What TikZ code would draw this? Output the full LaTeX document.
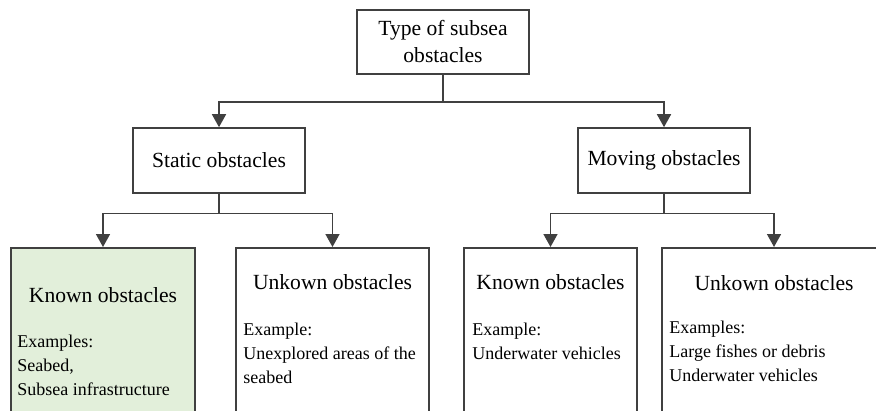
\documentclass[tikz,border=0pt]{standalone}
\usepackage{fontspec}
\setmainfont{Liberation Serif}
\usepackage{tikz}
\usetikzlibrary{arrows.meta,positioning,shadows}
\definecolor{obgreen}{RGB}{226,239,218}
\definecolor{obline}{RGB}{64,64,64}
\definecolor{obshade}{RGB}{170,190,225}

\begin{document}
\begin{tikzpicture}[x=0.5pt,y=-0.5pt,>={Triangle[width=7pt,length=6.5pt]},
  font=\fontsize{10.8}{13.5}\selectfont,
  box/.style={draw=obline,line width=0.8pt,fill=white,align=center,
    drop shadow={shadow xshift=0.4pt,shadow yshift=-0.6pt,fill=obshade,opacity=0.45}},
  leaf/.style={box,anchor=north,minimum height=110pt},
  link/.style={draw=obline,line width=0.8pt,->},
  note/.style={anchor=north west,inner sep=0pt,align=left,
    font=\fontsize{9}{12}\selectfont}]
  \useasboundingbox (0,0) rectangle (876,411);
  % root and first level
  \node[box,minimum width=86pt,minimum height=32pt] (root) at (443,42)
    {Type of subsea\\obstacles};
  \node[box,minimum width=86pt,minimum height=32.5pt] (static) at (219,160.5)
    {Static obstacles};
  \node[box,minimum width=86pt,minimum height=32.5pt] (moving) at (664,160.5)
    {Moving obstacles};
  % second level (boxes run past the bottom edge)
  \node[leaf,fill=obgreen,minimum width=92pt] (sknown) at (103,247) {};
  \node[leaf,minimum width=96.5pt] (sunknown) at (332.5,247) {};
  \node[leaf,minimum width=86.5pt] (mknown) at (550.5,247) {};
  \node[leaf,minimum width=111pt] (munknown) at (773,247) {};
  % box titles
  \node (sknownt) at (103,295) {Known obstacles};
  \node (sunknownt) at (332.5,282) {Unkown obstacles};
  \node (mknownt) at (550.5,282) {Known obstacles};
  \node (munknownt) at (774,283) {Unkown obstacles};
  % examples
  \node[note] (sknowne) at (17,335) {Examples:\\Seabed,\\Subsea infrastructure};
  \node[note] (sunknowne) at (243,323) {Example:\\Unexplored areas of the\\seabed};
  \node[note] (mknowne) at (472,323) {Example:\\Underwater vehicles};
  \node[note] (munknowne) at (669,321) {Examples:\\Large fishes or debris\\Underwater vehicles};
  % connectors
  \draw[link] (root.south) -- ++(0,27) -| (static.north);
  \draw[link] (root.south) -- ++(0,27) -| (moving.north);
  \draw[link] (static.south) -- ++(0,19.5) -| (sknown.north);
  \draw[link] (static.south) -- ++(0,19.5) -| (sunknown.north);
  \draw[link] (moving.south) -- ++(0,19.5) -| (mknown.north);
  \draw[link] (moving.south) -- ++(0,19.5) -| ([xshift=0.5pt]munknown.north);
\end{tikzpicture}
\end{document}
